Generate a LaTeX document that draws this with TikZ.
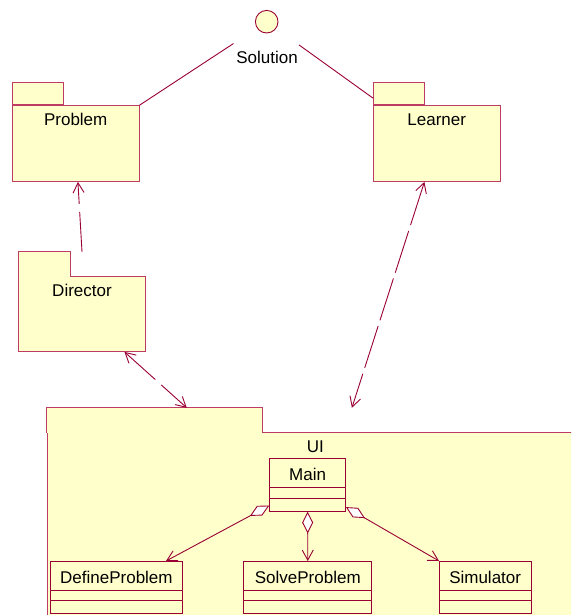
\documentclass[tikz,border=0pt]{standalone}
\usepackage{fontspec}
\setmainfont{Liberation Sans}
\usetikzlibrary{positioning,calc,arrows.meta}
\definecolor{roseline}{RGB}{153,0,51}
\definecolor{rosepkg}{RGB}{190,60,100}
\definecolor{roseyellow}{RGB}{255,255,204}
\tikzset{
  pkg/.style={draw=rosepkg,fill=roseyellow,anchor=north west,inner sep=0pt,
    text height=20pt,text depth=55.7pt,minimum width=126.5pt},
  pkgtab/.style={draw=rosepkg,fill=roseyellow,inner sep=0pt,minimum width=51pt,minimum height=22.6pt},
  opentab/.style={fill=roseyellow,inner sep=0pt,minimum height=24.5pt,anchor=south west},
  cls/.style={draw=roseline,fill=roseyellow,anchor=north west,inner sep=0pt,
    text height=22pt,text depth=30.4pt,
    path picture={\draw[roseline]
      ([yshift=13pt]path picture bounding box.south west) -- ([yshift=13pt]path picture bounding box.south east)
      ([yshift=23.4pt]path picture bounding box.south west) -- ([yshift=23.4pt]path picture bounding box.south east);}},
  barb/.tip={Straight Barb[length=10pt,width=11pt]},
  dep/.style={roseline,dash pattern=on 40pt off 8pt},
  agg/.style={roseline,{Diamond[length=22pt,width=11pt,fill=white]}-barb},
}
\begin{document}
\begin{tikzpicture}[x=1pt,y=-1pt,line width=0.9pt,font=\fontsize{17}{20}\selectfont]
\useasboundingbox (0,0) rectangle (571,615);
\clip (0,0) rectangle (571,615);
% the interface
\node[circle,draw=roseline,fill=roseyellow,minimum size=22.6pt,inner sep=0pt] (sol) at (266.7,21.7) {};
\node (sollabel) at (267,57.5) {Solution};
% packages
\node[pkg] (problem) at (12,105.3) {Problem};
\node[pkgtab,minimum width=50.7pt,above right=0pt and 0pt of problem.north west] (probtab) {};
\node[pkg] (learner) at (373,105.3) {Learner};
\node[pkgtab,above right=0pt and 0pt of learner.north west] (learntab) {};
\node[pkg,text depth=55.3pt] (director) at (18.3,275.7) {Director};
\node[opentab,minimum width=51.7pt] (dirtab) at ([yshift=-1.5pt]director.north west) {};
\draw[rosepkg] (dirtab.south west) |- (dirtab.north east) -- (dirtab.south east);
\node[pkg,minimum width=536.6pt,text depth=250pt] (ui) at (46.7,431.7) {UI};
\node[opentab,minimum width=214.6pt] (uitab) at ([yshift=-1.5pt]ui.north west) {};
\draw[rosepkg] (uitab.south west) |- (uitab.north east) -- (uitab.south east);
% realization and dependencies
\draw[roseline,shorten <=28pt] (sol) -- (problem.north east);
\draw[roseline,shorten <=28pt] (sol) -- (learntab.190);
\draw[dep,-barb] (director |- dirtab.north) -- (problem);
\draw[dep,barb-barb] (director) -- ($(uitab.north west)!0.65!(uitab.north east)$);
\draw[dep,dash pattern=on 44pt off 6pt,barb-barb] (learner) -- ($(uitab.north east)+(89.7,0)$);
% classes inside UI
\node[cls,minimum width=75.7pt] (main) at (269.3,458.3) {Main};
\foreach \nm/\x/\w/\txt in {defprob/49.9/132.1/DefineProblem,solveprob/243.3/128.1/SolveProblem,simulator/438.8/91.8/Simulator}
  \node[cls,minimum width=\w*1pt] (\nm) at (\x,561) {\txt};
\foreach \nm in {defprob,solveprob,simulator}
  \draw[agg] (main) -- (\nm);
\end{tikzpicture}
\end{document}
